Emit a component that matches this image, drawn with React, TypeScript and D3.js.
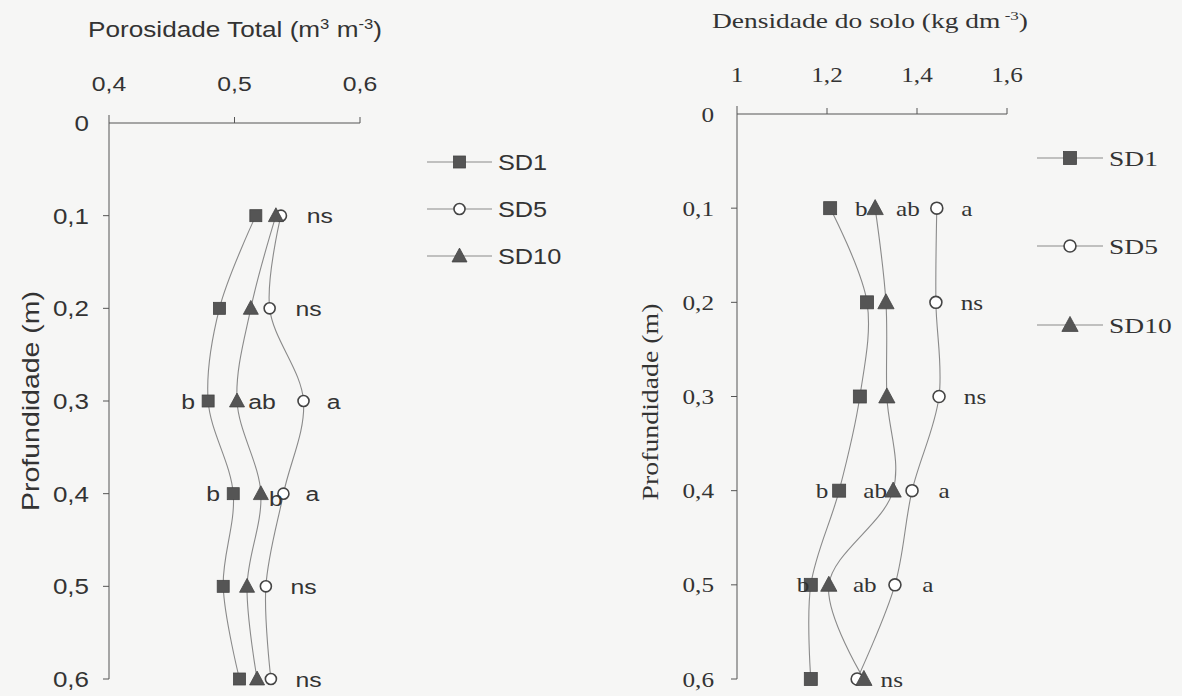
import { useEffect, useRef } from "react"
import * as d3 from "d3"

// profundidades (m)
const depths = [0.1, 0.2, 0.3, 0.4, 0.5, 0.6]
const depthTicks = [0, 0.1, 0.2, 0.3, 0.4, 0.5, 0.6]

// Porosidade total (m3 m-3)
const poroSD1 = [0.517, 0.488, 0.479, 0.499, 0.491, 0.504]
const poroSD5 = [0.537, 0.528, 0.555, 0.539, 0.525, 0.529]
const poroSD10 = [0.533, 0.513, 0.502, 0.521, 0.51, 0.518]
const poroTicks = [0.4, 0.5, 0.6]

// Densidade do solo (kg dm-3)
const densSD1 = [1.207, 1.289, 1.273, 1.227, 1.164, 1.164]
const densSD5 = [1.444, 1.442, 1.449, 1.389, 1.351, 1.267]
const densSD10 = [1.307, 1.331, 1.333, 1.347, 1.204, 1.282]
const densTicks = [1, 1.2, 1.4, 1.6]

const seriesNames = ["SD1", "SD5", "SD10"]

// letras de significância: [profundidade, valor no eixo x, texto]
const poroLetters: [number, number, string][] = [
  [0.1, 0.568, "ns"],
  [0.2, 0.559, "ns"],
  [0.3, 0.463, "b"],
  [0.3, 0.522, "ab"],
  [0.3, 0.579, "a"],
  [0.4, 0.483, "b"],
  [0.4, 0.533, "b"],
  [0.4, 0.562, "a"],
  [0.5, 0.555, "ns"],
  [0.6, 0.559, "ns"],
]
const densLetters: [number, number, string][] = [
  [0.1, 1.276, "b"],
  [0.1, 1.38, "ab"],
  [0.1, 1.511, "a"],
  [0.2, 1.522, "ns"],
  [0.3, 1.529, "ns"],
  [0.4, 1.189, "b"],
  [0.4, 1.307, "ab"],
  [0.4, 1.46, "a"],
  [0.5, 1.147, "b"],
  [0.5, 1.284, "ab"],
  [0.5, 1.424, "a"],
  [0.6, 1.344, "ns"],
]

const W = 1182
const H = 696
const AXIS = "#555"
const LINE = "#8a8a8a"
const MARK = "#555"

type Sel = d3.Selection<SVGGElement, unknown, null, undefined>

function marker(g: Sel, kind: number, x: number, y: number, s: number) {
  if (kind === 0) {
    g.append("rect")
      .attr("x", x - s / 2).attr("y", y - s / 2)
      .attr("width", s).attr("height", s)
      .attr("fill", MARK).attr("stroke", "#444").attr("stroke-width", 0.8)
  } else if (kind === 1) {
    g.append("circle")
      .attr("cx", x).attr("cy", y).attr("r", s * 0.46)
      .attr("fill", "#fff").attr("stroke", "#444").attr("stroke-width", 1.6)
  } else {
    const w = s * 1.25
    const h = s * 1.1
    g.append("path")
      .attr("d", `M${x},${y - h * 0.6}L${x + w / 2},${y + h * 0.45}L${x - w / 2},${y + h * 0.45}Z`)
      .attr("fill", MARK).attr("stroke", "#444").attr("stroke-width", 0.8)
  }
}

function label(g: Sel, x: number, y: number, str: string, font: string, size: number, sx: number, anchor = "middle") {
  return g.append("text")
    .attr("transform", `translate(${x},${y}) scale(${sx},1)`)
    .attr("text-anchor", anchor)
    .attr("font-family", font)
    .attr("font-size", size)
    .attr("fill", "#333")
    .text(str)
}

function panel(
  g: Sel,
  opt: {
    x: d3.ScaleLinear<number, number>
    y: d3.ScaleLinear<number, number>
    ticks: number[]
    fmt: (v: number) => string
    series: number[][]
    letters: [number, number, string][]
    font: string
    size: number
    sx: number
    tickBase: number
    yLabelRight: number
    ySize: number
    markSize: number
  }
) {
  const { x, y, font, size, sx } = opt
  const x0 = x.range()[0]
  const x1 = x.range()[1]
  const y0 = y.range()[0]
  const y1 = y.range()[1]

  // eixos
  g.append("line").attr("x1", x0).attr("x2", x1).attr("y1", y0).attr("y2", y0)
    .attr("stroke", AXIS).attr("stroke-width", 1)
  g.append("line").attr("x1", x0).attr("x2", x0).attr("y1", y0 - 8).attr("y2", y1)
    .attr("stroke", AXIS).attr("stroke-width", 1)
  opt.ticks.forEach((t, i) => {
    if (i > 0)
      g.append("line").attr("x1", x(t)).attr("x2", x(t)).attr("y1", y0).attr("y2", y0 - 6)
        .attr("stroke", AXIS)
    label(g, x(t), opt.tickBase, opt.fmt(t), font, size, sx)
  })
  depthTicks.forEach((d, i) => {
    if (i > 0)
      g.append("line").attr("x1", x0 - 6).attr("x2", x0).attr("y1", y(d)).attr("y2", y(d))
        .attr("stroke", AXIS)
    label(g, opt.yLabelRight, y(d) + opt.ySize * 0.36, d === 0 ? "0" : d3.format(".1f")(d).replace(".", ","), font, opt.ySize, sx, "end")
  })

  // linhas suavizadas
  const line = d3.line<number>()
    .x((v) => x(v))
    .y((_, i) => y(depths[i]))
    .curve(d3.curveCatmullRom.alpha(0.5))
  opt.series.forEach((s) => {
    g.append("path").attr("d", line(s)).attr("fill", "none")
      .attr("stroke", LINE).attr("stroke-width", 1.1)
  })
  opt.series.forEach((s, k) => {
    s.forEach((v, i) => marker(g, k, x(v), y(depths[i]), opt.markSize))
  })

  // letras
  opt.letters.forEach(([d, v, t]) => {
    label(g, x(v), y(d) + size * 0.36 + (t === "b" && v > 0.52 && v < 0.55 ? 5 : 0), t, font, size, sx)
  })
}

function legend(g: Sel, lx: number, ys: number[], font: string, size: number, sx: number, len: number, ms: number) {
  seriesNames.forEach((n, k) => {
    g.append("line").attr("x1", lx).attr("x2", lx + len).attr("y1", ys[k]).attr("y2", ys[k])
      .attr("stroke", LINE).attr("stroke-width", 1.1)
    marker(g, k, lx + len / 2, ys[k], ms)
    label(g, lx + len + 6, ys[k] + size * 0.36, n, font, size, sx, "start")
  })
}

export default function App() {
  const ref = useRef<SVGSVGElement>(null)

  useEffect(() => {
    const svg = d3.select(ref.current)
    svg.selectAll("*").remove()
    svg.append("rect").attr("width", W).attr("height", H).attr("fill", "#f6f6f5")

    const ARIAL = "'Liberation Sans', Arial, sans-serif"
    const TIMES = "'Liberation Serif', 'Times New Roman', serif"

    // painel esquerdo: porosidade
    const gl = svg.append("g") as unknown as Sel
    panel(gl, {
      x: d3.scaleLinear().domain([0.4, 0.6]).range([109, 360]),
      y: d3.scaleLinear().domain([0, 0.6]).range([123, 679]),
      ticks: poroTicks,
      fmt: (v) => d3.format(".1f")(v).replace(".", ","),
      series: [poroSD1, poroSD5, poroSD10],
      letters: poroLetters,
      font: ARIAL, size: 21, sx: 1.18,
      tickBase: 91, yLabelRight: 89, ySize: 22, markSize: 12,
    })
    legend(gl, 427, [162, 209, 256], ARIAL, 22, 1.15, 65, 12)

    const tl = gl.append("text").attr("x", 88).attr("y", 37)
      .attr("font-family", ARIAL).attr("font-size", 22).attr("fill", "#333")
      .attr("textLength", 294).attr("lengthAdjust", "spacingAndGlyphs")
    tl.append("tspan").text("Porosidade Total (m")
    tl.append("tspan").attr("dy", -8).attr("font-size", 14).text("3")
    tl.append("tspan").attr("dy", 8).text(" m")
    tl.append("tspan").attr("dy", -8).attr("font-size", 14).text("-3")
    tl.append("tspan").attr("dy", 8).text(")")

    gl.append("text")
      .attr("transform", "translate(39,401) rotate(-90)")
      .attr("text-anchor", "middle")
      .attr("font-family", ARIAL).attr("font-size", 24).attr("fill", "#333")
      .attr("textLength", 220).attr("lengthAdjust", "spacingAndGlyphs")
      .text("Profundidade (m)")

    // painel direito: densidade
    const gr = svg.append("g") as unknown as Sel
    panel(gr, {
      x: d3.scaleLinear().domain([1, 1.6]).range([737, 1007]),
      y: d3.scaleLinear().domain([0, 0.6]).range([114, 679]),
      ticks: densTicks,
      fmt: (v) => (v === 1 ? "1" : d3.format(".1f")(v).replace(".", ",")),
      series: [densSD1, densSD5, densSD10],
      letters: densLetters,
      font: TIMES, size: 21, sx: 1.2,
      tickBase: 82, yLabelRight: 714, ySize: 21, markSize: 13,
    })
    legend(gr, 1037, [158, 246, 325], TIMES, 22, 1.25, 66, 13)

    const tr = gr.append("text").attr("x", 712).attr("y", 28)
      .attr("font-family", TIMES).attr("font-size", 21).attr("fill", "#333")
      .attr("textLength", 316).attr("lengthAdjust", "spacingAndGlyphs")
    tr.append("tspan").text("Densidade do solo (kg dm")
    tr.append("tspan").attr("dy", -8).attr("font-size", 13).text(" -3")
    tr.append("tspan").attr("dy", 8).text(")")

    gr.append("text")
      .attr("transform", "translate(658,402) rotate(-90)")
      .attr("text-anchor", "middle")
      .attr("font-family", TIMES).attr("font-size", 23).attr("fill", "#333")
      .attr("textLength", 197).attr("lengthAdjust", "spacingAndGlyphs")
      .text("Profundidade (m)")
  }, [])

  return (
    <div style={{ position: "absolute", left: 0, top: 0 }}>
      <svg ref={ref} width={W} height={H} style={{ display: "block" }} />
    </div>
  )
}
